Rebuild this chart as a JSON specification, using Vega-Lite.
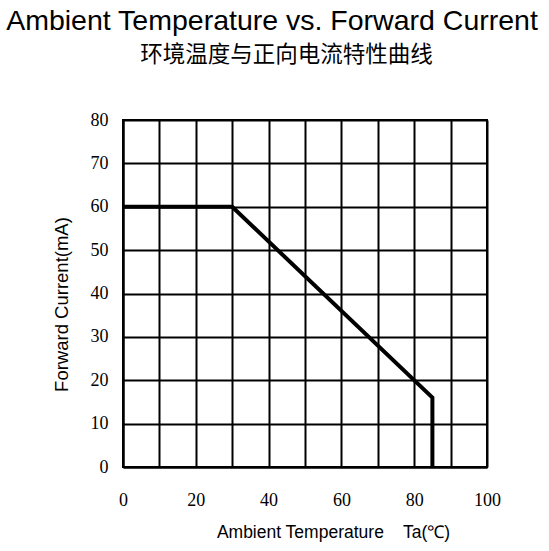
{
  "$schema": "https://vega.github.io/schema/vega-lite/v6.json",
  "width": 364,
  "height": 347,
  "autosize": "none",
  "padding": {"left": 123, "top": 120, "right": 62, "bottom": 84},
  "background": "white",
  "title": {
    "text": "Ambient Temperature vs. Forward Current",
    "anchor": "middle",
    "frame": "group",
    "dx": -33,
    "offset": 8,
    "font": "Liberation Sans",
    "fontSize": 28.5,
    "fontWeight": "normal",
    "color": "black"
  },
  "data": {
    "values": [
      {"i": 0, "Ta": 0, "IF": 60},
      {"i": 1, "Ta": 30, "IF": 60},
      {"i": 2, "Ta": 85, "IF": 16},
      {"i": 3, "Ta": 85, "IF": 0}
    ]
  },
  "encoding": {
    "y": {
      "field": "IF",
      "type": "quantitative",
      "scale": {"domain": [0, 80], "nice": false},
      "axis": {
        "values": [0, 10, 20, 30, 40, 50, 60, 70, 80],
        "labelOverlap": false,
        "labelFlush": false,
        "grid": true,
        "gridColor": "black",
        "gridWidth": 2,
        "gridOpacity": 1,
        "domainColor": "black",
        "domainWidth": 2,
        "ticks": false,
        "labelFont": "Liberation Serif",
        "labelFontSize": 18,
        "labelColor": "black",
        "labelPadding": 15,
        "title": "Forward Current(mA)",
        "titleFont": "Liberation Sans",
        "titleFontSize": 18.5,
        "titleFontWeight": "normal",
        "titleColor": "black",
        "titleX": -52,
        "titleY": 184
      }
    },
    "order": {"field": "i", "type": "quantitative"}
  },
  "layer": [
    {
      "mark": {"type": "line", "color": "black", "strokeWidth": 4, "strokeJoin": "miter", "strokeCap": "butt"},
      "encoding": {
        "x": {
          "field": "Ta",
          "type": "quantitative",
          "scale": {"domain": [0, 100], "nice": false, "zero": false},
          "axis": {
            "orient": "bottom",
            "values": [0, 10, 20, 30, 40, 50, 60, 70, 80, 90, 100],
            "labelExpr": "datum.value % 20 == 0 ? datum.label : ''",
            "labelOverlap": false,
            "labelFlush": false,
            "grid": true,
            "gridColor": "black",
            "gridWidth": 2,
            "gridOpacity": 1,
            "domainColor": "black",
            "domainWidth": 2,
            "ticks": false,
            "labelFont": "Liberation Serif",
            "labelFontSize": 18,
            "labelColor": "black",
            "labelPadding": 24,
            "title": "Ambient Temperature\u00a0\u00a0\u00a0 Ta(℃)",
            "titleFont": "Liberation Sans",
            "titleFontSize": 17.5,
            "titleFontWeight": "normal",
            "titleColor": "black",
            "titleX": 210,
            "titleY": 70,
            "titleBaseline": "alphabetic"
          }
        }
      }
    },
    {
      "mark": {"type": "line", "opacity": 0},
      "encoding": {
        "x": {
          "field": "Ta",
          "type": "quantitative",
          "axis": {
            "orient": "top",
            "grid": false,
            "domain": false,
            "ticks": false,
            "labels": false,
            "title": "环境温度与正向电流特性曲线",
            "titleFont": "Noto Sans CJK SC",
            "titleFontSize": 22.5,
            "titleFontWeight": "normal",
            "titleColor": "black",
            "titleX": 163,
            "titleY": -59,
            "titleBaseline": "alphabetic"
          }
        }
      }
    }
  ],
  "resolve": {"axis": {"x": "independent"}},
  "config": {
    "view": {"stroke": "black", "strokeWidth": 2}
  }
}
